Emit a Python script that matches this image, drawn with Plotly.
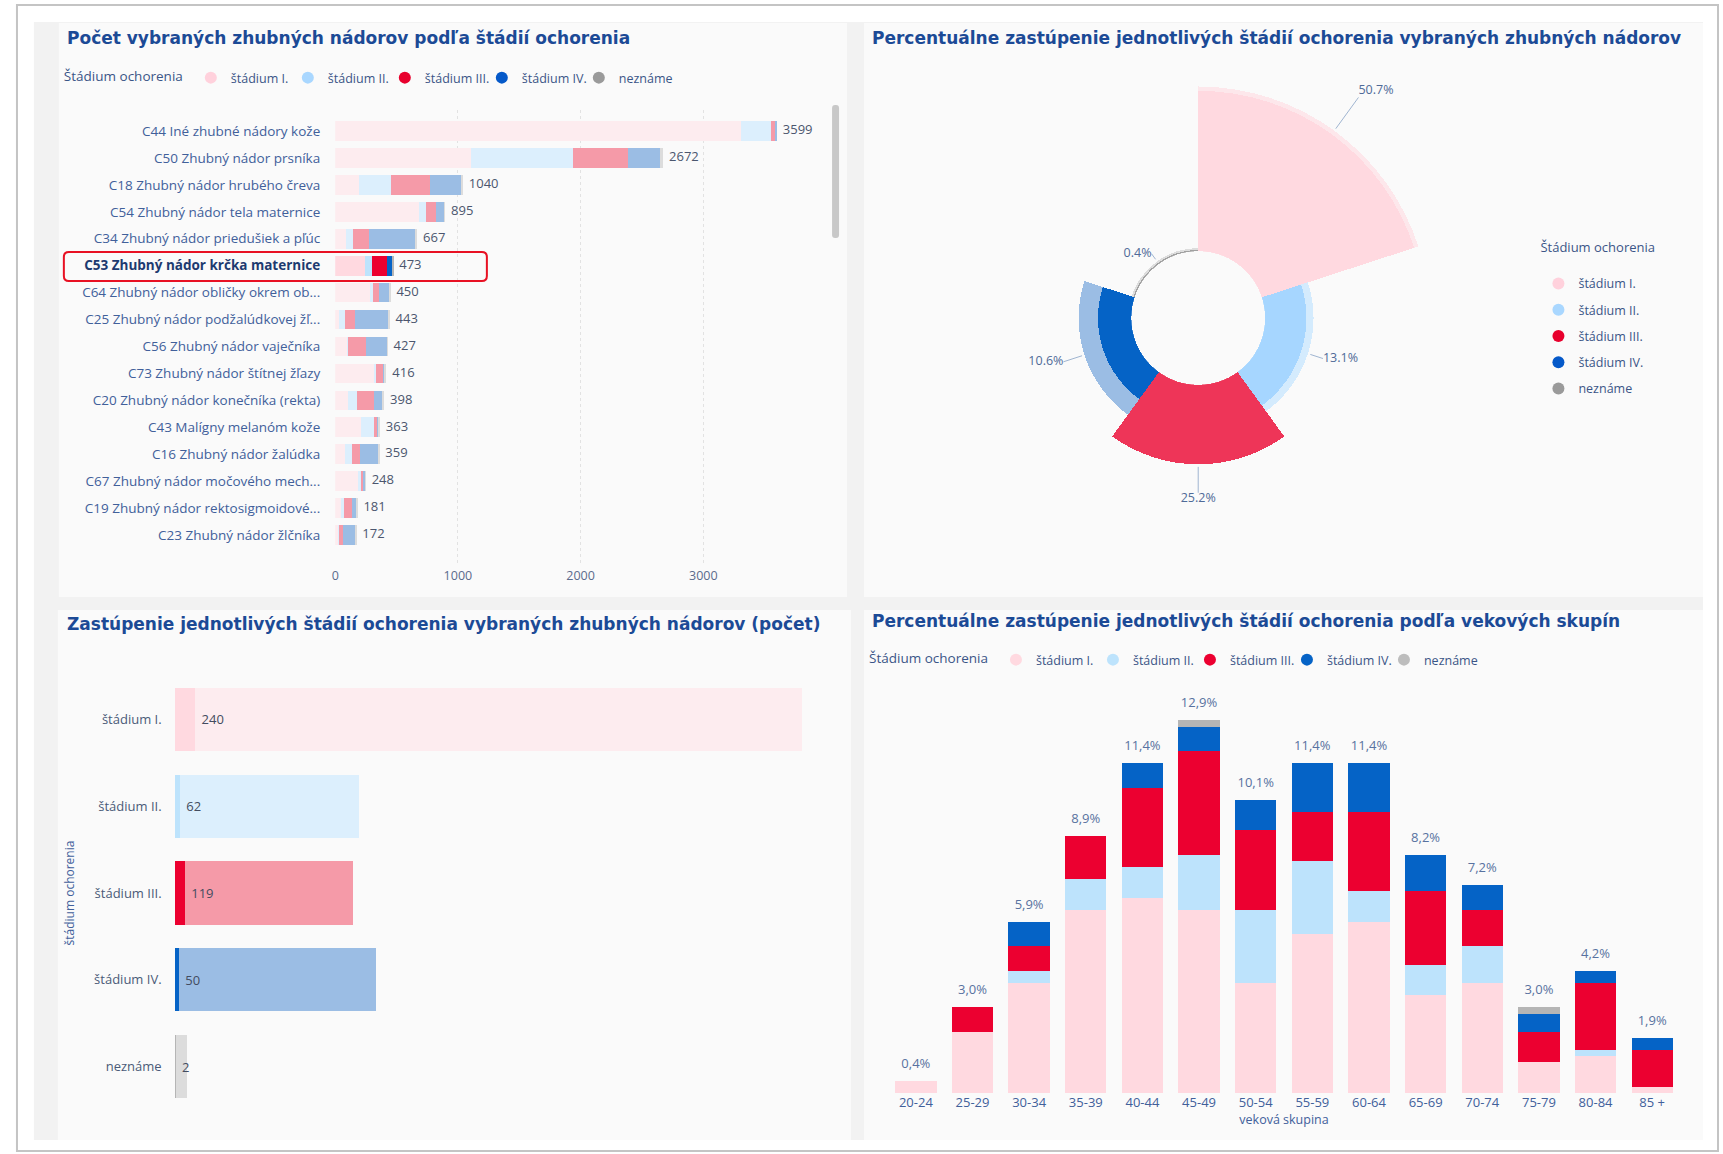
import numpy as np
import plotly.graph_objects as go

W, H = 1723, 1154

stages = ["štádium I.", "štádium II.", "štádium III.", "štádium IV.", "neznáme"]

# počty podľa diagnózy a štádia (horný ľavý graf)
diagnoses = [
    "C44 Iné zhubné nádory kože",
    "C50 Zhubný nádor prsníka",
    "C18 Zhubný nádor hrubého čreva",
    "C54 Zhubný nádor tela maternice",
    "C34 Zhubný nádor priedušiek a pľúc",
    "C53 Zhubný nádor krčka maternice",
    "C64 Zhubný nádor obličky okrem ob...",
    "C25 Zhubný nádor podžalúdkovej žľ...",
    "C56 Zhubný nádor vaječníka",
    "C73 Zhubný nádor štítnej žľazy",
    "C20 Zhubný nádor konečníka (rekta)",
    "C43 Malígny melanóm kože",
    "C16 Zhubný nádor žalúdka",
    "C67 Zhubný nádor močového mech...",
    "C19 Zhubný nádor rektosigmoidové...",
    "C23 Zhubný nádor žlčníka",
]
dg_stage_1 = [3305, 1108, 191, 681, 87, 240, 286, 29, 100, 320, 108, 212, 79, 183, 46, 25]
dg_stage_2 = [250, 830, 261, 62, 54, 62, 20, 54, 5, 12, 66, 104, 58, 29, 25, 4]
dg_stage_3 = [38, 452, 320, 75, 133, 119, 50, 75, 145, 62, 145, 29, 66, 21, 62, 33]
dg_stage_4 = [6, 253, 261, 75, 386, 50, 87, 278, 174, 12, 71, 12, 154, 12, 46, 108]
dg_unknown = [0, 29, 7, 2, 7, 2, 7, 7, 3, 10, 8, 6, 2, 3, 2, 2]
selected = "C53"

# všetky vybrané nádory spolu podľa štádia (pozadie dolného ľavého grafu)
all_by_stage = [7300, 2150, 2075, 2340, 140]

# vekové skupiny pre vybraný nádor (dolný pravý graf)
age_groups = ["20-24", "25-29", "30-34", "35-39", "40-44", "45-49", "50-54",
              "55-59", "60-64", "65-69", "70-74", "75-79", "80-84", "85 +"]
age_stage_1 = [2, 10, 18, 30, 32, 30, 18, 26, 28, 16, 18, 5, 6, 1]
age_stage_2 = [0, 0, 2, 5, 5, 9, 12, 12, 5, 5, 6, 0, 1, 0]
age_stage_3 = [0, 4, 4, 7, 13, 17, 13, 8, 13, 12, 6, 5, 11, 6]
age_stage_4 = [0, 0, 4, 0, 4, 4, 5, 8, 8, 6, 4, 3, 2, 2]
age_unknown = [0, 0, 0, 0, 0, 1, 0, 0, 0, 0, 0, 1, 0, 0]

full_colors = ["#FFD9E0", "#BDE3FC", "#EC0030", "#0563C6", "#B5B5B5"]
faded_colors = ["#FDECEF", "#DCEFFD", "#F59AA8", "#9BBDE4", "#DCDCDC"]
polar_colors = ["#FFD9E0", "#A6D6FF", "#EE3558", "#0563C6", "#A0A0A0"]
polar_faded = ["#FDE7EB", "#D4EBFD", "#F59AA8", "#9BBDE4", "#DDDDDD"]
legend_colors = ["#FFD1DC", "#A9D7FF", "#E8002D", "#0559C9", "#9A9A9A"]
lead_len = [13, 5, 9, 7, 3]   # dĺžka vodiacich čiar popisov v polárnom grafe

TITLE_C = "#1c4a96"
LABEL_C = "#41609a"
FONT = "Open Sans"
TITLE_FONT = "DejaVu Sans"


def px(x):
    return x / W


def py(y):
    return 1 - y / H


def rounded_rect(x0, y0, x1, y1, r):
    rx, ry = r / W, r / H
    a, b, c, d = px(x0), px(x1), py(y0), py(y1)
    return ("M %f,%f L %f,%f Q %f,%f %f,%f L %f,%f Q %f,%f %f,%f L %f,%f Q %f,%f %f,%f "
            "L %f,%f Q %f,%f %f,%f Z" % (
                a + rx, c, b - rx, c, b, c, b, c - ry, b, d + ry, b, d, b - rx, d,
                a + rx, d, a, d, a, d + ry, a, c - ry, a, c, a + rx, c))


fig = go.Figure()

# --- horný ľavý: skladaný pruhový graf ---
dg_series = [dg_stage_1, dg_stage_2, dg_stage_3, dg_stage_4, dg_unknown]
rows = list(range(len(diagnoses)))
is_sel = [d.startswith(selected) for d in diagnoses]
for k, vals in enumerate(dg_series):
    fig.add_trace(go.Bar(
        x=vals, y=rows, orientation="h", xaxis="x", yaxis="y",
        marker=dict(color=[full_colors[k] if s else faded_colors[k] for s in is_sel], line_width=0),
        showlegend=False, hoverinfo="skip",
    ))
totals = np.sum(dg_series, axis=0)
fig.add_trace(go.Scatter(
    x=totals, y=rows, mode="markers+text", xaxis="x", yaxis="y",
    marker=dict(size=8, opacity=0), text=[str(t) for t in totals], textposition="middle right",
    textfont=dict(size=13, color="#4b566e", family=FONT),
    showlegend=False, hoverinfo="skip", cliponaxis=False,
))
for k, name in enumerate(stages):
    fig.add_trace(go.Scatter(
        x=[None], y=[None], mode="markers", xaxis="x", yaxis="y",
        marker=dict(symbol="circle", size=12, color=legend_colors[k]),
        name=name, legend="legend",
    ))

ticktext = []
for d, s in zip(diagnoses, is_sel):
    ticktext.append('<span style="color:#1d3a70"><b>%s</b></span>' % d if s else d)

# --- dolný ľavý: pozadie (všetky) a zvýraznenie (vybraný) ---
sel_idx = is_sel.index(True)
sel_vals = [s[sel_idx] for s in dg_series]
stage_rows = list(range(len(stages)))
fig.add_trace(go.Bar(
    x=all_by_stage, y=stage_rows, orientation="h", xaxis="x2", yaxis="y2",
    marker=dict(color=faded_colors, line_width=0), showlegend=False, hoverinfo="skip",
))
fig.add_trace(go.Bar(
    x=sel_vals, y=stage_rows, orientation="h", xaxis="x3", yaxis="y3",
    marker=dict(color=full_colors, line_width=0), showlegend=False, hoverinfo="skip",
    text=["\u00a0" + str(v) for v in sel_vals], textposition="outside",
    textfont=dict(size=13, color="#434c60", family=FONT), cliponaxis=False,
))

# --- horný pravý: polárny graf ---
n_st = len(stages)
step = 360 / n_st
theta = [step * i + step / 2 for i in range(n_st)]
sel_total = sum(sel_vals)
sel_pct = [v / sel_total * 100 for v in sel_vals]
all_pct = [v / sum(all_by_stage) * 100 for v in all_by_stage]
fig.add_trace(go.Barpolar(
    r=all_pct, theta=theta, width=[step] * n_st, subplot="polar",
    marker=dict(color=polar_faded, line_width=0), showlegend=False, hoverinfo="skip",
))
fig.add_trace(go.Barpolar(
    r=sel_pct, theta=theta, width=[step] * n_st, subplot="polar",
    marker=dict(color=polar_colors, line_width=0), showlegend=False, hoverinfo="skip",
))
outer = [max(a, b) for a, b in zip(sel_pct, all_pct)]
lead_r, lead_t = [], []
for o, t, ln in zip(outer, theta, lead_len):
    lead_r += [o + 0.8, o + ln, None]
    lead_t += [t, t, None]
fig.add_trace(go.Scatterpolar(
    r=lead_r, theta=lead_t, mode="lines", subplot="polar",
    line=dict(color="#9fb4d0", width=1), showlegend=False, hoverinfo="skip",
))
fig.add_trace(go.Scatterpolar(
    r=[o + ln for o, ln in zip(outer, lead_len)], theta=theta, mode="text", subplot="polar",
    text=["%.1f%%" % v for v in sel_pct],
    textposition=["top right", "middle right", "bottom center", "middle left", "middle left"],
    textfont=dict(size=12.5, color="#4f6a98", family=FONT),
    showlegend=False, hoverinfo="skip", cliponaxis=False,
))
for k, name in enumerate(stages):
    fig.add_trace(go.Scatterpolar(
        r=[None], theta=[None], mode="markers", subplot="polar",
        marker=dict(symbol="circle", size=12, color=legend_colors[k]),
        name=name, legend="legend2", legendgroup="p%d" % k,
    ))

# --- dolný pravý: percentá podľa vekových skupín ---
age_series = [age_stage_1, age_stage_2, age_stage_3, age_stage_4, age_unknown]
age_total = np.sum(age_series)
for k, vals in enumerate(age_series):
    fig.add_trace(go.Bar(
        x=age_groups, y=np.array(vals) / age_total * 100, xaxis="x4", yaxis="y4",
        marker=dict(color=full_colors[k], line_width=0), showlegend=False, hoverinfo="skip",
    ))
age_pct = np.sum(age_series, axis=0) / age_total * 100
fig.add_trace(go.Scatter(
    x=age_groups, y=age_pct, mode="markers+text", xaxis="x4", yaxis="y4",
    marker=dict(size=14, opacity=0),
    text=[("%.1f" % v).replace(".", ",") + "%" for v in age_pct], textposition="top center",
    textfont=dict(size=13, color="#5872a0", family=FONT),
    showlegend=False, hoverinfo="skip", cliponaxis=False,
))
for k, name in enumerate(stages):
    fig.add_trace(go.Scatter(
        x=[None], y=[None], mode="markers", xaxis="x4", yaxis="y4",
        marker=dict(symbol="circle", size=12, color=full_colors[k] if k < 4 else "#BDBDBD"),
        name=name, legend="legend3",
    ))

# --- pozadie stránky a karty ---
shapes = [
    dict(type="rect", xref="paper", yref="paper", x0=px(13), x1=px(1718), y0=py(1151), y1=py(5),
         line=dict(color="#c4c4c4", width=2), fillcolor="#ffffff", layer="below"),
    dict(type="rect", xref="paper", yref="paper", x0=px(30), x1=px(1703), y0=py(1140), y1=py(22),
         line_width=0, fillcolor="#F2F2F2", layer="below"),
]
for x0, x1, y0, y1 in [(55, 845, 23, 597), (862, 1703, 23, 597), (54, 849, 610, 1140), (862, 1703, 610, 1140)]:
    shapes.append(dict(type="rect", xref="paper", yref="paper", x0=px(x0), x1=px(x1), y0=py(y1), y1=py(y0),
                       line_width=0, fillcolor="#FAFAFA", layer="below"))
# posuvník a výber riadku
shapes.append(dict(type="path", xref="paper", yref="paper", path=rounded_rect(830, 105, 837, 238, 3),
                   line_width=0, fillcolor="#C8C8C8", layer="below"))
shapes.append(dict(type="path", xref="paper", yref="paper", path=rounded_rect(60, 252, 484, 281, 5),
                   line=dict(color="#E81123", width=2), fillcolor="rgba(0,0,0,0)"))

titles = [
    ("Počet vybraných zhubných nádorov podľa štádií ochorenia", 61, 38),
    ("Percentuálne zastúpenie jednotlivých štádií ochorenia vybraných zhubných nádorov", 868, 38),
    ("Zastúpenie jednotlivých štádií ochorenia vybraných zhubných nádorov (počet)", 61, 624),
    ("Percentuálne zastúpenie jednotlivých štádií ochorenia podľa vekových skupín", 868, 621),
]
annotations = [
    dict(text="<b>%s</b>" % t, x=px(x), y=py(y), xref="paper", yref="paper", xanchor="left",
         yanchor="middle", showarrow=False, font=dict(size=17, color=TITLE_C, family=TITLE_FONT))
    for t, x, y in titles
]

legend_common = dict(
    bgcolor="rgba(0,0,0,0)", itemwidth=30,
    font=dict(size=12.5, color="#3a5587", family=FONT),
)
R = 304.5
cx, cy = 1197, 318

fig.update_layout(
    width=W, height=H, margin=dict(l=0, r=0, t=0, b=0),
    paper_bgcolor="#ffffff", plot_bgcolor="rgba(0,0,0,0)",
    font=dict(family=FONT, color=LABEL_C),
    barmode="stack", bargap=0.27,
    shapes=shapes, annotations=annotations,
    legend=dict(orientation="h", x=px(58), y=py(63), xanchor="left", yanchor="top",
                entrywidth=52, entrywidthmode="pixels", traceorder="normal",
                title=dict(text="Štádium ochorenia", side="left", font=dict(size=13.5)), **legend_common),
    legend2=dict(orientation="v", x=px(1538), y=py(235), xanchor="left", yanchor="top",
                 title=dict(text="Štádium ochorenia<br> ", side="top", font=dict(size=13)),
                 traceorder="grouped", tracegroupgap=7, **legend_common),
    legend3=dict(orientation="h", x=px(865), y=py(645), xanchor="left", yanchor="top",
                 entrywidth=52, entrywidthmode="pixels", traceorder="normal",
                 title=dict(text="Štádium ochorenia", side="left", font=dict(size=13.5)), **legend_common),
    xaxis=dict(domain=[px(332), px(819)], anchor="y", range=[0, 3960], tickvals=[0, 1000, 2000, 3000],
               showgrid=True, gridcolor="#e2e2e2", griddash="dot", zeroline=False, showline=False,
               tickfont=dict(size=12.5, color="#5b6b8c")),
    yaxis=dict(domain=[py(566), py(110)], anchor="x", range=[16.15, -0.78], tickvals=rows, ticktext=ticktext,
               showgrid=False, zeroline=False, ticklabelstandoff=14, tickfont=dict(size=13.5, color=LABEL_C)),
    xaxis2=dict(domain=[px(171), px(820)], anchor="y2", range=[0, 7532], visible=False),
    yaxis2=dict(domain=[py(1110), py(676)], anchor="x2", range=[4.5, -0.5], tickvals=stage_rows, ticktext=stages,
                showgrid=False, zeroline=False, ticklabelstandoff=12, tickfont=dict(size=13, color="#4a5a78"),
                title=dict(text="štádium ochorenia", font=dict(size=12, color=LABEL_C), standoff=16)),
    xaxis3=dict(domain=[px(171), px(820)], anchor="y3", range=[0, 7532], visible=False, overlaying="x2"),
    yaxis3=dict(domain=[py(1110), py(676)], anchor="x3", range=[4.5, -0.5], visible=False, overlaying="y2"),
    xaxis4=dict(domain=[px(885.6), px(1680.4)], anchor="y4", range=[-0.5, len(age_groups) - 0.5],
                showgrid=False, zeroline=False, tickfont=dict(size=13, color=LABEL_C),
                title=dict(text="veková skupina", font=dict(size=12.5, color=LABEL_C), standoff=2)),
    yaxis4=dict(domain=[py(1093), py(690)], anchor="x4", range=[0, 13.95], visible=False),
    polar=dict(
        domain=dict(x=[px(cx - R), px(cx + R)], y=[py(cy + R), py(cy - R)]),
        hole=0.22, bgcolor="rgba(0,0,0,0)", barmode="overlay",
        radialaxis=dict(range=[0, 75], visible=False),
        angularaxis=dict(visible=False, rotation=90, direction="clockwise"),
    ),
)

fig.write_html("out.html", config={"displayModeBar": False},
               post_script="document.body.style.margin='0';document.body.style.overflow='hidden';")
